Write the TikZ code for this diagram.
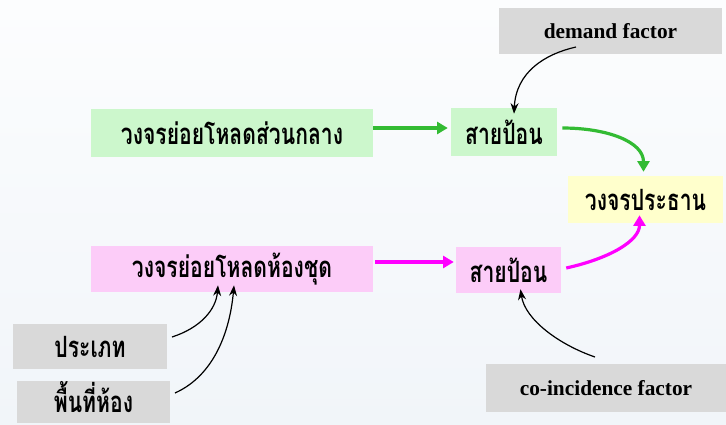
\documentclass[tikz,border=0pt]{standalone}
\usepackage{fontspec}
\setmainfont{Liberation Serif}
\newfontfamily\thai[Script=Thai,FakeStretch=0.72]{Loma}
\usetikzlibrary{arrows.meta}
\definecolor{bgtop}{HTML}{FCFDFE}
\definecolor{bgbot}{HTML}{F1F5F9}
\definecolor{gbox}{HTML}{CCF7CC}
\definecolor{pbox}{HTML}{FCCCF8}
\definecolor{ybox}{HTML}{FFFFCC}
\definecolor{grbox}{HTML}{D9D9D9}
\definecolor{garrow}{HTML}{33BB33}
\definecolor{parrow}{HTML}{FF00FF}
\tikzset{
  box/.style={inner sep=0pt, minimum width=#1},
  thaitxt/.style={font=\thai\bfseries\fontsize{22}{24}\selectfont},
  entxt/.style={font=\bfseries\fontsize{16}{18}\selectfont},
  thick arrow/.style={line width=2.4pt, -{Triangle[length=8pt,width=9pt]}},
  thin arrow/.style={line width=0.9pt, -{Stealth[length=8pt,width=6pt]}},
}
\begin{document}
\begin{tikzpicture}[x=0.75pt,y=-0.75pt]
\shade[top color=bgtop,bottom color=bgbot] (0,0) rectangle (726,425);
\useasboundingbox (0,0) rectangle (726,425);
% boxes
\node[box=0pt, fill=grbox, minimum width=167.25pt, minimum height=34.5pt, entxt] (demand) at (610.5,31) {demand factor};
\node[box=0pt, fill=gbox, minimum width=211.5pt, minimum height=36pt, thaitxt] (central) at (232,133) {วงจรย่อยโหลดส่วนกลาง};
\node[box=0pt, fill=gbox, minimum width=79.5pt, minimum height=36pt, thaitxt] (feedtop) at (504,132) {สายป้อน};
\node[box=0pt, fill=ybox, minimum width=116.25pt, minimum height=35.25pt, thaitxt] (main) at (645.5,199.5) {วงจรประธาน};
\node[box=0pt, fill=pbox, minimum width=211.5pt, minimum height=34.5pt, thaitxt] (suite) at (232,269) {วงจรย่อยโหลดห้องชุด};
\node[box=0pt, fill=pbox, minimum width=78.75pt, minimum height=34.5pt, thaitxt] (feedbot) at (508.5,270) {สายป้อน};
\node[box=0pt, fill=grbox, minimum width=115.5pt, minimum height=33.75pt, thaitxt] (type) at (90,346.5) {ประเภท};
\node[box=0pt, fill=grbox, minimum width=114.75pt, minimum height=31.5pt, thaitxt] (area) at (93.5,402) {\raisebox{7.5pt}{พื้นที่ห้อง}};
\node[box=0pt, fill=grbox, minimum width=180pt, minimum height=36pt, entxt] (coinc) at (606,388) {co-incidence factor};
% coloured arrows
\draw[thick arrow, garrow] ([yshift=3.75pt]central.east) -- ([yshift=3pt,xshift=-2.25pt]feedtop.west);
\draw[thick arrow, garrow] ([xshift=3.75pt,yshift=3pt]feedtop.east) .. controls +(45,0) and +(0,-30) .. ([xshift=-1.5pt,yshift=3pt]main.north);
\draw[thick arrow, parrow] ([xshift=1.5pt,yshift=5.25pt]suite.east) -- ([xshift=-1.5pt,yshift=6pt]feedbot.west);
\draw[thick arrow, parrow] ([xshift=3.75pt,yshift=1.5pt]feedbot.east) .. controls +(45,-10) and +(0,25) .. ([xshift=-4.5pt,yshift=6pt]main.south);
% black arrows
\coordinate (d0) at (576,47);
\draw[thin arrow] (d0) .. controls (545,54) and (516,72) .. ([xshift=7.5pt,yshift=-4.5pt]feedtop.north);
\coordinate (t0) at (172,337);
\draw[thin arrow] (t0) .. controls (200,328) and (216,310) .. ([xshift=-10.5pt,yshift=5.25pt]suite.south);
\coordinate (a0) at (175,393);
\draw[thin arrow] (a0) .. controls (215,375) and (230,330) .. ([xshift=1.5pt,yshift=5.25pt]suite.south);
\coordinate (c0) at (595,357);
\draw[thin arrow] (c0) .. controls (560,345) and (525,320) .. ([xshift=9pt,yshift=3pt]feedbot.south);
\end{tikzpicture}
\end{document}
